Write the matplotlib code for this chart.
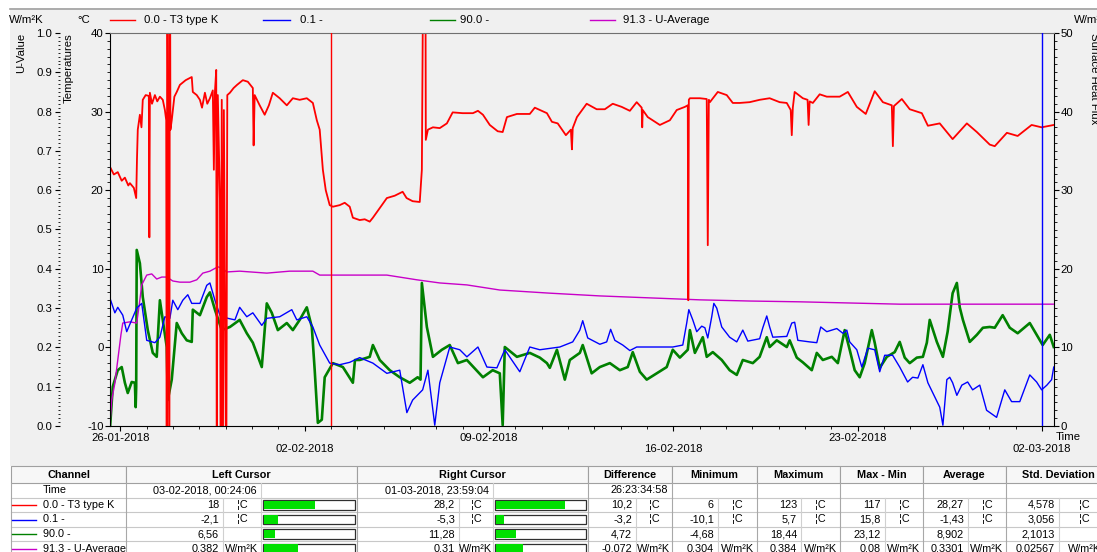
import datetime as dt
import matplotlib
matplotlib.use('Agg')
import matplotlib.pyplot as plt
from matplotlib.patches import Rectangle
from matplotlib.lines import Line2D
from matplotlib.transforms import ScaledTranslation
from matplotlib.ticker import MultipleLocator, FormatStrFormatter

plt.rcParams['font.family'] = ['Liberation Sans', 'DejaVu Sans']
plt.rcParams['font.size'] = 8.2
plt.rcParams['axes.unicode_minus'] = False

# ---------------- data (x in days since 26-01-2018 00:00) ----------------
START = dt.datetime(2018, 1, 26)
tick_dates = ['26-01-2018', '02-02-2018', '09-02-2018', '16-02-2018', '23-02-2018', '02-03-2018']

red_day = [-0.40, -0.25, -0.10, 0.05, 0.17, 0.30, 0.36, 0.51, 0.60, 0.63,
           0.66, 0.74, 0.80, 0.85, 0.96, 1.08, 1.10, 1.12, 1.20, 1.31,
           1.40, 1.50, 1.61, 1.69, 1.74, 1.76, 1.78, 1.86, 1.88, 1.90,
           1.95, 2.05, 2.14, 2.26, 2.48, 2.71, 2.75, 2.90, 3.02, 3.10,
           3.21, 3.30, 3.40, 3.51, 3.55, 3.59, 3.64, 3.66, 3.70, 3.78,
           3.81, 3.85, 3.89, 3.93, 4.02, 4.06, 4.16, 4.30, 4.43, 4.65,
           4.84, 5.03, 5.06, 5.10, 5.29, 5.48, 5.64, 5.79, 6.05, 6.32,
           6.55, 6.81, 7.08, 7.31, 7.46, 7.57, 7.69, 7.80, 7.95, 8.07,
           8.33, 8.52, 8.71, 8.83, 9.09, 9.28, 9.47, 9.59, 9.74, 9.93,
           10.12, 10.42, 10.72, 10.87, 11.10, 11.37, 11.45, 11.52, 11.58, 11.60,
           11.68, 11.87, 12.13, 12.40, 12.62, 13.00, 13.39, 13.58, 13.77, 14.03,
           14.33, 14.52, 14.68, 15.06, 15.55, 15.74, 16.20, 16.39, 16.61, 16.92,
           17.11, 17.15, 17.18, 17.34, 17.71, 18.09, 18.40, 18.70, 19.04, 19.35,
           19.61, 19.80, 19.82, 19.84, 20.03, 20.49, 20.87, 21.13, 21.44, 21.55,
           21.57, 21.59, 21.63, 22.01, 22.27, 22.31, 22.35, 22.39, 22.69, 23.03,
           23.26, 23.52, 23.90, 24.28, 24.66, 25.04, 25.31, 25.46, 25.50, 25.54,
           25.61, 25.92, 26.10, 26.14, 26.18, 26.30, 26.56, 26.83, 27.32, 27.63,
           27.97, 28.31, 28.65, 28.96, 29.30, 29.34, 29.38, 29.68, 29.98, 30.44,
           30.67, 31.12, 31.61, 32.15, 32.53, 33.02, 33.21, 33.67, 34.08, 34.61,
           34.99, 35.45]
red_temp = [23.0, 22.0, 22.3, 21.2, 21.6, 20.6, 20.9, 20.3, 19.0, 24.0,
            27.7, 29.6, 28.0, 31.5, 32.1, 32.0, 14.0, 32.4, 31.0, 32.1,
            31.3, 31.9, 31.5, 30.2, 28.9, -20, 60, -20, 60, 27.7,
            28.9, 31.9, 32.5, 33.4, 34.0, 34.4, 32.5, 32.1, 31.5, 30.5,
            32.4, 31.0, 31.7, 32.7, 22.6, 32.5, 35.3, -20, 32.1, 18.8,
            -20, 31.5, -20, 30.2, -20, 32.1, 32.4, 33.0, 33.4, 34.0,
            33.8, 33.0, 25.7, 32.1, 30.8, 29.6, 30.8, 32.4, 31.7, 30.8,
            31.7, 31.5, 31.7, 31.1, 28.9, 27.7, 22.6, 20.0, 18.1, 17.9,
            18.1, 18.4, 17.9, 16.5, 16.2, 16.3, 16.0, 16.5, 17.2, 18.1,
            19.0, 19.3, 19.8, 19.0, 18.6, 18.5, 22.6, 60, 60, 26.4,
            27.7, 28.0, 27.9, 28.5, 29.9, 29.8, 29.8, 30.1, 29.6, 28.3,
            27.5, 27.4, 29.3, 29.7, 29.7, 30.5, 29.8, 28.7, 28.5, 27.0,
            27.7, 25.2, 27.9, 29.3, 31.0, 30.3, 30.3, 31.0, 30.6, 30.1,
            31.2, 30.5, 28.0, 30.2, 29.3, 28.3, 28.9, 30.2, 30.6, 30.8,
            6.0, 31.5, 31.7, 31.7, 31.6, 13.0, 31.5, 31.2, 32.5, 32.1,
            31.1, 31.1, 31.2, 31.5, 31.7, 31.2, 31.1, 30.2, 27.0, 30.5,
            32.5, 31.7, 31.5, 28.3, 31.3, 31.1, 32.2, 31.9, 31.9, 32.5,
            30.6, 29.7, 32.6, 31.2, 30.8, 25.6, 30.7, 31.6, 30.3, 29.8,
            28.2, 28.5, 26.5, 28.5, 27.4, 25.8, 25.6, 27.3, 26.9, 28.3,
            28.0, 28.3]

blue_day = [-0.40, -0.21, -0.10, 0.09, 0.24, 0.43, 0.62, 0.81, 1.00, 1.31,
            1.50, 1.69, 1.88, 1.99, 2.18, 2.37, 2.56, 2.71, 3.02, 3.28,
            3.40, 3.59, 3.78, 4.08, 4.35, 4.53, 4.80, 5.03, 5.37, 5.56,
            6.05, 6.51, 6.70, 7.08, 7.31, 7.57, 7.95, 8.33, 8.71, 9.09,
            9.59, 10.12, 10.61, 10.88, 11.10, 11.48, 11.68, 11.94, 12.13, 12.51,
            12.89, 13.16, 13.58, 13.92, 14.30, 14.60, 15.17, 15.55, 15.93, 16.69,
            17.18, 17.45, 17.56, 17.75, 18.21, 18.47, 18.62, 18.78, 19.08, 19.35,
            19.61, 20.98, 21.36, 21.51, 21.59, 21.74, 21.89, 22.08, 22.20, 22.31,
            22.46, 22.54, 22.65, 22.84, 23.14, 23.41, 23.64, 23.83, 24.28, 24.40,
            24.55, 24.66, 24.78, 25.31, 25.50, 25.61, 25.73, 26.18, 26.45, 26.60,
            26.83, 27.21, 27.44, 27.59, 27.70, 27.97, 28.16, 28.39, 28.65, 28.84,
            29.03, 29.33, 29.60, 29.90, 30.09, 30.29, 30.48, 30.67, 30.86, 31.12,
            31.24, 31.39, 31.50, 31.61, 31.77, 31.96, 32.18, 32.37, 32.64, 32.90,
            33.28, 33.59, 33.85, 34.16, 34.54, 34.80, 34.99, 35.19, 35.37, 35.45]
blue_temp = [6.3, 4.4, 5.1, 4.1, 2.0, 3.5, 5.0, 5.6, 0.9, 0.6,
             1.3, 3.9, 3.7, 6.0, 4.8, 6.0, 6.7, 5.6, 5.6, 7.9,
             8.2, 6.0, 4.1, 3.7, 3.5, 5.1, 3.9, 4.4, 2.8, 3.7,
             3.9, 4.8, 3.5, 3.9, 2.6, 0.3, -2.0, -2.2, -1.9, -1.3,
             -2.0, -3.3, -2.9, -8.3, -6.7, -5.4, -2.9, -9.9, -4.5, 0.05,
             -0.3, -1.2, 0.05, -2.5, -2.6, -0.3, -3.1, 0.05, -0.3, 0.05,
             0.7, 2.2, 3.4, 1.2, 0.4, 0.7, 2.3, 0.9, 0.3, -0.4,
             0.05, 0.05, 0.3, 3.1, 4.8, 3.5, 2.0, 2.7, 2.5, 1.2,
             3.9, 5.6, 5.0, 2.6, 1.3, 0.7, 2.2, 0.8, 1.1, 2.5,
             4.0, 2.6, 1.3, 1.4, 3.1, 3.2, 0.9, 0.7, 0.6, 2.6,
             2.0, 2.4, 1.8, 2.2, 0.7, -0.3, -2.5, -0.1, -0.3, -3.1,
             -1.0, -1.0, -2.5, -4.4, -3.8, -3.9, -2.2, -4.5, -5.8, -7.6,
             -9.9, -4.1, -3.8, -4.5, -6.1, -4.8, -4.4, -5.4, -4.8, -8.0,
             -8.9, -5.4, -6.9, -6.9, -3.5, -4.4, -5.4, -4.8, -4.1, -2.5]

green_day = [-0.40, -0.29, -0.10, 0.05, 0.17, 0.28, 0.43, 0.55, 0.58, 0.60,
             0.62, 0.74, 0.85, 1.04, 1.23, 1.38, 1.50, 1.61, 1.76, 1.80,
             1.95, 2.14, 2.33, 2.52, 2.71, 2.75, 3.02, 3.28, 3.40, 3.59,
             3.85, 4.16, 4.53, 4.80, 5.03, 5.37, 5.56, 5.75, 5.98, 6.32,
             6.55, 6.81, 7.08, 7.27, 7.38, 7.50, 7.65, 7.76, 8.07, 8.45,
             8.83, 8.91, 9.09, 9.47, 9.59, 9.85, 10.23, 10.61, 10.99, 11.29,
             11.40, 11.45, 11.64, 11.87, 12.21, 12.51, 12.82, 13.16, 13.77, 14.14,
             14.41, 14.52, 14.60, 15.06, 15.55, 15.93, 16.20, 16.31, 16.58, 16.88,
             17.07, 17.45, 17.56, 17.90, 18.21, 18.59, 18.97, 19.27, 19.46, 19.73,
             19.99, 20.37, 20.75, 20.98, 21.25, 21.55, 21.63, 21.82, 22.12, 22.27,
             22.50, 22.84, 23.14, 23.41, 23.64, 24.02, 24.28, 24.55, 24.66, 24.93,
             25.31, 25.42, 25.69, 25.92, 26.26, 26.45, 26.68, 27.02, 27.25, 27.51,
             27.70, 27.89, 28.08, 28.27, 28.54, 28.65, 28.84, 29.11, 29.41, 29.60,
             29.79, 29.98, 30.25, 30.48, 30.63, 30.74, 31.01, 31.24, 31.42, 31.61,
             31.77, 31.88, 32.00, 32.26, 32.53, 32.76, 33.02, 33.21, 33.51, 33.78,
             34.08, 34.54, 34.80, 35.03, 35.30, 35.45]
green_flux = [-0.5, 5.0, 7.1, 7.5, 5.5, 4.2, 5.6, 5.5, 2.4, 5.0,
              22.4, 20.7, 16.4, 12.2, 9.3, 8.8, 16.0, 13.5, 10.05, 3.3,
              5.9, 13.1, 11.8, 10.9, 10.7, 14.8, 14.1, 16.4, 17.0, 14.8,
              12.2, 12.6, 13.5, 11.8, 10.6, 7.5, 15.6, 14.4, 12.2, 13.1,
              12.2, 13.5, 15.1, 12.6, 7.1, 0.4, 0.8, 6.2, 8.0, 7.5,
              5.5, 8.4, 8.4, 8.8, 10.3, 8.4, 7.1, 6.2, 5.5, 6.2,
              5.9, 18.2, 12.6, 8.8, 9.7, 10.3, 8.0, 8.4, 6.2, 7.1,
              6.7, 0.1, 10.05, 8.8, 9.3, 8.7, 8.0, 7.4, 9.7, 5.9,
              8.4, 9.3, 10.3, 6.7, 7.5, 8.0, 7.1, 7.5, 9.4, 6.9,
              5.9, 6.7, 7.5, 9.7, 8.7, 9.7, 12.2, 9.3, 11.3, 8.8,
              9.4, 8.4, 7.1, 6.5, 8.4, 8.0, 8.8, 11.3, 10.05, 10.9,
              10.05, 10.9, 8.7, 8.1, 7.1, 9.3, 8.4, 8.8, 8.0, 12.2,
              9.7, 7.1, 6.2, 8.0, 12.2, 10.6, 7.4, 8.8, 9.4, 10.7,
              8.7, 8.0, 8.7, 8.8, 10.6, 13.5, 10.7, 8.8, 12.0, 16.9,
              18.2, 15.1, 13.5, 10.7, 11.6, 12.5, 12.6, 12.5, 14.1, 12.5,
              11.8, 13.1, 11.6, 10.3, 11.6, 10.05]

mag_day = [-0.40, -0.33, -0.21, -0.10, 0.02, 0.09, 0.36, 0.62, 0.74, 0.81,
           1.00, 1.19, 1.38, 1.57, 1.76, 1.99, 2.26, 2.64, 2.90, 3.13,
           3.40, 3.70, 3.85, 4.04, 4.53, 5.56, 6.43, 7.31, 7.57, 9.36,
           10.12, 11.26, 12.13, 13.16, 14.41, 16.31, 18.21, 20.11, 22.01, 23.90,
           25.80, 27.70, 29.60, 31.50, 33.40, 35.45]
mag_u = [0.0, 0.066, 0.109, 0.168, 0.232, 0.262, 0.265, 0.262, 0.321, 0.359,
         0.384, 0.387, 0.374, 0.379, 0.379, 0.369, 0.366, 0.366, 0.372, 0.389,
         0.394, 0.405, 0.402, 0.392, 0.394, 0.389, 0.394, 0.394, 0.384, 0.384,
         0.384, 0.372, 0.364, 0.359, 0.346, 0.338, 0.331, 0.326, 0.321, 0.318,
         0.316, 0.313, 0.310, 0.310, 0.310, 0.310]

# legend / table
channel_names = ['0.0 - T3 type K', '0.1 -', '90.0 -', '91.3 - U-Average']
channel_colors = ['#ff0000', '#0000ff', '#008000', '#c800c8']
left_cursor_time = '03-02-2018, 00:24:06'
right_cursor_time = '01-03-2018, 23:59:04'
diff_time = '26:23:34:58'
units = ['¦C', '¦C', '', 'W/m²K']
left_vals = ['18', '-2,1', '6,56', '0,382']
right_vals = ['28,2', '-5,3', '11,28', '0,31']
diff_vals = ['10,2', '-3,2', '4,72', '-0,072']
min_vals = ['6', '-10,1', '-4,68', '0,304']
max_vals = ['123', '5,7', '18,44', '0,384']
maxmin_vals = ['117', '15,8', '23,12', '0,08']
avg_vals = ['28,27', '-1,43', '8,902', '0,3301']
std_vals = ['4,578', '3,056', '2,1013', '0,02567']
bar_ranges = [(-10, 40), (-10, 40), (0, 50), (0, 1)]

# ---------------- figure ----------------
W, H = 1097, 552
fig = plt.figure(figsize=(W / 100, H / 100), dpi=100, facecolor='white')


def fx(p):
    return p / W


def fy(p):
    return 1 - p / H


def hline(x0, x1, y, color, lw=0.8, z=3):
    fig.add_artist(Line2D([fx(x0), fx(x1)], [fy(y), fy(y)], color=color, lw=lw, zorder=z))


def vline(x, y0, y1, color, lw=0.8, z=3):
    fig.add_artist(Line2D([fx(x), fx(x)], [fy(y0), fy(y1)], color=color, lw=lw, zorder=z))


def box(x0, y0, x1, y1, fc, ec='none', lw=0.8, z=1):
    fig.add_artist(Rectangle((fx(x0), fy(y1)), fx(x1) - fx(x0), fy(y0) - fy(y1),
                             transform=fig.transFigure, facecolor=fc, edgecolor=ec,
                             lw=lw, zorder=z))


# chart panel
box(10, 8, 1100, 466, '#f0f0f0', z=0)
hline(10, 1100, 8.5, '#a0a0a0', lw=1.2, z=1)

ax = fig.add_axes([fx(110), fy(426), fx(1054) - fx(110), fy(33) - fy(426)])
axf = ax.twinx()
axu = ax.twinx()
ax.set_zorder(3)
axu.set_zorder(2)
axf.set_zorder(1)
ax.patch.set_visible(False)
axu.patch.set_visible(False)
axf.patch.set_visible(True)
axf.patch.set_facecolor('#f0f0f0')

x0d, x1d = -0.395, 35.46
ax.set_xlim(x0d, x1d)
ax.set_ylim(-10, 40)
axf.set_ylim(0, 50)
axu.set_ylim(0, 1)

axf.plot(green_day, green_flux, color='#008000', lw=1.9)
axu.plot(mag_day, mag_u, color='#c800c8', lw=1.0)
ax.plot(blue_day, blue_temp, color='#0000ff', lw=1.0)
ax.plot(red_day, red_temp, color='#ff0000', lw=1.3)


def to_days(s):
    t = dt.datetime.strptime(s, '%d-%m-%Y, %H:%M:%S')
    return (t - START).total_seconds() / 86400.0


ax.axvline(to_days(left_cursor_time), color='#ff0000', lw=1.0, zorder=5)
ax.axvline(to_days(right_cursor_time), color='#0000ff', lw=1.0, zorder=5)

# spines
ax.spines['right'].set_visible(False)
ax.spines['top'].set_color('#707070')
for s in ['left', 'bottom']:
    ax.spines[s].set_color('black')
for s in ['left', 'top', 'bottom']:
    axf.spines[s].set_visible(False)
axf.spines['right'].set_color('black')
for s in ['right', 'top', 'bottom']:
    axu.spines[s].set_visible(False)
axu.spines['left'].set_position(('axes', (60 - 110) / (1054 - 110)))
axu.spines['left'].set_linewidth(0)
axu.yaxis.tick_left()
axu.yaxis.set_label_position('left')

# y ticks
for a in (ax, axf):
    a.yaxis.set_major_locator(MultipleLocator(10))
    a.yaxis.set_minor_locator(MultipleLocator(1))
    a.tick_params(axis='y', which='major', direction='out', length=3.6, width=0.8, pad=1,
                  labelsize=8.2, colors='black')
    a.tick_params(axis='y', which='minor', direction='out', length=2.0, width=0.6)
axu.yaxis.set_major_locator(MultipleLocator(0.1))
axu.yaxis.set_minor_locator(MultipleLocator(0.01))
axu.yaxis.set_major_formatter(FormatStrFormatter('%.1f'))
axu.tick_params(axis='y', which='major', direction='out', length=3.6, width=0.8, pad=2,
                labelsize=8.2)
axu.tick_params(axis='y', which='minor', direction='out', length=1.8, width=0.6)

# x ticks (labels in two staggered rows)
tick_days = [(dt.datetime.strptime(s, '%d-%m-%Y') - START).days for s in tick_dates]
ax.set_xticks(tick_days)
ax.set_xticklabels([s if i % 2 == 0 else '' for i, s in enumerate(tick_dates)])
row2 = ax.get_xaxis_transform() + ScaledTranslation(0, -18 / 100, fig.dpi_scale_trans)
for i, s in enumerate(tick_dates):
    if i % 2 == 1:
        ax.text(tick_days[i], 0, s, transform=row2, ha='center', va='top', fontsize=8.2,
                clip_on=False)
ax.xaxis.set_minor_locator(MultipleLocator(1))
ax.tick_params(axis='x', which='major', direction='out', length=3.8, width=0.8, pad=1.2,
               labelsize=8.2)
ax.tick_params(axis='x', which='minor', direction='out', length=2.2, width=0.6)
ax.set_xlim(x0d, x1d)

fig.text(fx(1056), fy(437), 'Time', ha='left', va='center', fontsize=8.2)

# axis titles
fig.text(fx(21), fy(33), 'U-Value', rotation=90, ha='center', va='top', fontsize=8.2)
fig.text(fx(69), fy(33), 'Temperatures', rotation=90, ha='center', va='top', fontsize=8.2)
fig.text(fx(1094), fy(33), 'Surface Heat Flux', rotation=270, ha='center', va='top', fontsize=8.2)

# legend row
ly = 20
fig.text(fx(9), fy(ly), 'W/m²K', ha='left', va='center', fontsize=8.2)
fig.text(fx(77), fy(ly), '°C', ha='left', va='center', fontsize=8.2)
fig.text(fx(1074), fy(ly), 'W/m²', ha='left', va='center', fontsize=8.2)
legend_x = [(110, 135, 144), (263, 290, 300), (430, 455, 460), (590, 615, 623)]
for (lx0, lx1, tx), name, col in zip(legend_x, channel_names, channel_colors):
    hline(lx0, lx1, ly, col, lw=1.0, z=4)
    fig.text(fx(tx), fy(ly), name, ha='left', va='center', fontsize=8.2)

# ---------------- table ----------------
HT, HB = 466, 483
ROW_H = 14.6
row_tops = [HB + i * ROW_H for i in range(5)]
TS = 7.8

headers = [('Channel', 11, 126), ('Left Cursor', 126, 357), ('Right Cursor', 357, 588),
           ('Difference', 588, 672), ('Minimum', 672, 757), ('Maximum', 757, 840),
           ('Max - Min', 840, 923), ('Average', 923, 1006), ('Std. Deviation', 1006, 1110)]

box(11, HB, 1110, 560, 'white', z=1)
for name, a, b in headers:
    box(a, HT, b, HB, '#f7f7f7', ec='#a0a0a0', lw=0.8, z=2)
    fig.text(fx((a + b) / 2), fy((HT + HB) / 2), name, ha='center', va='center',
             fontsize=TS, fontweight='bold', zorder=5)

groups = [(126, 223, 261, 357), (357, 459, 493, 588), (588, 636, 672), (672, 718, 757),
          (757, 801, 840), (840, 885, 923), (923, 968, 1006), (1006, 1059, 1110)]

for r in range(5):
    y0 = row_tops[r]
    y1 = y0 + ROW_H
    hline(11, 1100, y1, '#c8c8c8', lw=0.8)
    for g in groups:
        vline(g[0], y0, y1, '#a8a8a8', lw=0.8)
        inner = g[2:-1] if r == 0 else g[1:-1]
        for xv in inner:
            vline(xv, y0, y1, '#d0d0d0', lw=0.8)
vline(11, HB, 560, '#a8a8a8')

yc = lambda r: fy(row_tops[r] + ROW_H / 2)
fig.text(fx(43), yc(0), 'Time', ha='left', va='center', fontsize=TS, zorder=5)
fig.text(fx(261 - 4), yc(0), left_cursor_time, ha='right', va='center', fontsize=TS, zorder=5)
fig.text(fx(493 - 4), yc(0), right_cursor_time, ha='right', va='center', fontsize=TS, zorder=5)
fig.text(fx(672 - 4), yc(0), diff_time, ha='right', va='center', fontsize=TS, zorder=5)

cols_vals = [left_vals, right_vals, diff_vals, min_vals, max_vals, maxmin_vals, avg_vals, std_vals]
for i in range(4):
    r = i + 1
    y0 = row_tops[r]
    hline(12, 36, y0 + ROW_H / 2, channel_colors[i], lw=1.0, z=4)
    fig.text(fx(43), yc(r), channel_names[i], ha='left', va='center', fontsize=TS, zorder=5)
    for g, vals in zip(groups, cols_vals):
        fig.text(fx(g[1] - 4), yc(r), vals[i], ha='right', va='center', fontsize=TS, zorder=5)
        fig.text(fx((g[1] + g[2]) / 2), yc(r), units[i], ha='center', va='center',
                 fontsize=TS, zorder=5)
    for g, vals in zip(groups[:2], [left_vals, right_vals]):
        bx0, bx1 = g[2] + 2, g[3] - 2
        by0, by1 = y0 + 2.5, y0 + ROW_H - 2.5
        lo, hi = bar_ranges[i]
        frac = (float(vals[i].replace(',', '.')) - lo) / (hi - lo)
        frac = max(0.0, min(1.0, frac))
        box(bx0, by0, bx1, by1, 'white', ec='#303030', lw=0.9, z=3)
        box(bx0 + 0.5, by0 + 0.5, bx0 + (bx1 - bx0) * frac, by1 - 0.5, '#00e000', z=4)

fig.savefig('out.png', dpi=100, facecolor='white')
